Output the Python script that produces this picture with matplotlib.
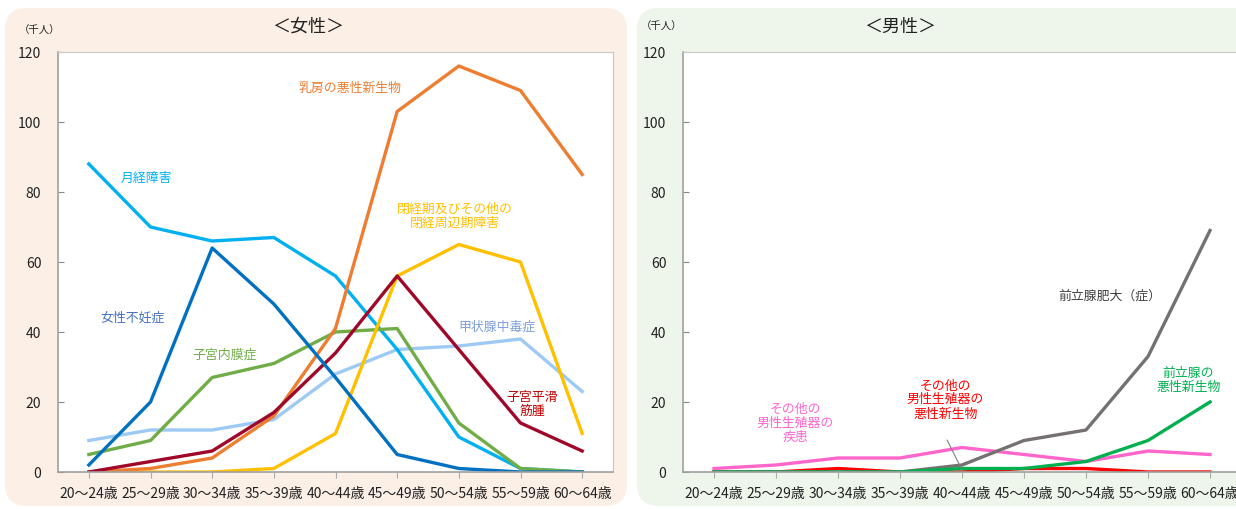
import matplotlib
matplotlib.use("Agg")
import matplotlib.pyplot as plt
from matplotlib.patches import FancyBboxPatch

plt.rcParams['font.family'] = ['Noto Sans CJK JP', 'DejaVu Sans']

ages = ['20～24歳', '25～29歳', '30～34歳', '35～39歳', '40～44歳',
        '45～49歳', '50～54歳', '55～59歳', '60～64歳']

# 女性 (千人)
gekkei = [88, 70, 66, 67, 56, 35, 10, 1, 0]
funin = [2, 20, 64, 48, 27, 5, 1, 0, 0]
naimaku = [5, 9, 27, 31, 40, 41, 14, 1, 0]
nyubo = [0, 1, 4, 16, 41, 103, 116, 109, 85]
heikei = [0, 0, 0, 1, 11, 56, 65, 60, 11]
kinshu = [0, 3, 6, 17, 34, 56, 35, 14, 6]
koujou = [9, 12, 12, 15, 28, 35, 36, 38, 23]

# 男性 (千人)
hidai = [0, 0, 0, 0, 2, 9, 12, 33, 69]
zenritsu_gan = [0, 0, 0, 0, 1, 1, 3, 9, 20]
sonota_shikkan = [1, 2, 4, 4, 7, 5, 3, 6, 5]
sonota_gan = [0, 0, 1, 0, 0, 1, 1, 0, 0]

W, H = 1236, 509
fig = plt.figure(figsize=(W / 100, H / 100), dpi=100)

# background panels in pixel coordinates
bg = fig.add_axes([0, 0, 1, 1], zorder=-1)
bg.set_xlim(0, W)
bg.set_ylim(H, 0)
bg.axis('off')
bg.add_patch(FancyBboxPatch((5, 8), 622, 498, boxstyle='round,pad=0,rounding_size=22',
                            fc='#fbefe6', ec='none'))
bg.add_patch(FancyBboxPatch((637, 8), 640, 498, boxstyle='round,pad=0,rounding_size=22',
                            fc='#eef6ec', ec='none'))
bg.text(308, 27, '＜女性＞', ha='center', va='center', fontsize=13, color='#222222')
bg.text(900, 27, '＜男性＞', ha='center', va='center', fontsize=13, color='#222222')
bg.text(40, 31, '（千人）', ha='center', va='center', fontsize=7.5, color='#222222')
bg.text(662, 27, '（千人）', ha='center', va='center', fontsize=7.5, color='#222222')

x = list(range(len(ages)))


def style(ax):
    ax.set_xlim(-0.5, 8.5)
    ax.set_ylim(0, 120)
    ax.set_yticks(range(0, 121, 20))
    ax.set_xticks(x)
    ax.set_xticklabels(ages, fontsize=10, color='#222222')
    ax.tick_params(axis='y', direction='in', length=4, pad=12, labelsize=10,
                   colors='#888888', labelcolor='#222222')
    ax.tick_params(axis='x', direction='out', length=4, pad=7, colors='#aaaaaa',
                   labelcolor='#222222')
    for s in ['top', 'right']:
        ax.spines[s].set_color('#c8c8c8')
    for s in ['left', 'bottom']:
        ax.spines[s].set_color('#a0a0a0')
        ax.spines[s].set_linewidth(1.2)
    ax.set_facecolor('white')


lw = 2.4
ax1 = fig.add_axes([58 / W, 37 / H, 555 / W, 420 / H])
style(ax1)
ax1.plot(x, koujou, color='#9dcaf5', lw=lw)
ax1.plot(x, gekkei, color='#00b0f0', lw=lw)
ax1.plot(x, naimaku, color='#70ad47', lw=lw)
ax1.plot(x, heikei, color='#ffc000', lw=lw)
ax1.plot(x, nyubo, color='#ed7d31', lw=lw)
ax1.plot(x, kinshu, color='#a0082a', lw=lw)
ax1.plot(x, funin, color='#0070c0', lw=lw)

fs = 9.3
ax1.text(4.24, 109.7, '乳房の悪性新生物', color='#ed7d31', fontsize=fs, ha='center', va='center')
ax1.text(0.93, 84, '月経障害', color='#00b0f0', fontsize=fs, ha='center', va='center')
ax1.text(5.94, 73, '閉経期及びその他の\n閉経周辺期障害', color='#ffc000', fontsize=fs,
         ha='center', va='center', linespacing=1.1)
ax1.text(0.71, 44, '女性不妊症', color='#4472c4', fontsize=fs, ha='center', va='center')
ax1.text(2.2, 33.4, '子宮内膜症', color='#70ad47', fontsize=fs, ha='center', va='center')
ax1.text(6.62, 41.4, '甲状腺中毒症', color='#7f9fd8', fontsize=fs, ha='center', va='center')
ax1.text(7.19, 19.4, '子宮平滑\n筋腫', color='#c00000', fontsize=fs, ha='center', va='center',
         linespacing=1.1)

ax2 = fig.add_axes([683 / W, 37 / H, 558 / W, 420 / H])
style(ax2)
ax2.plot(x, sonota_shikkan, color='#ff66cc', lw=lw)
ax2.plot(x, sonota_gan, color='#ff0000', lw=lw)
ax2.plot(x, hidai, color='#767171', lw=lw)
ax2.plot(x, zenritsu_gan, color='#00b050', lw=lw)

ax2.text(6.39, 50.3, '前立腺肥大（症）', color='#404040', fontsize=fs, ha='center', va='center')
ax2.text(7.65, 26.3, '前立腺の\n悪性新生物', color='#00b050', fontsize=fs, ha='center',
         va='center', linespacing=1.1)
ax2.text(3.73, 20.6, 'その他の\n男性生殖器の\n悪性新生物', color='#ff0000', fontsize=fs,
         ha='center', va='center', linespacing=1.1)
ax2.text(1.31, 14, 'その他の\n男性生殖器の\n疾患', color='#ff66cc', fontsize=fs,
         ha='center', va='center', linespacing=1.1)
ax2.plot([3.76, 4.0], [9.1, 0.6], color='#808080', lw=0.8)

fig.savefig('out.png', dpi=100)
